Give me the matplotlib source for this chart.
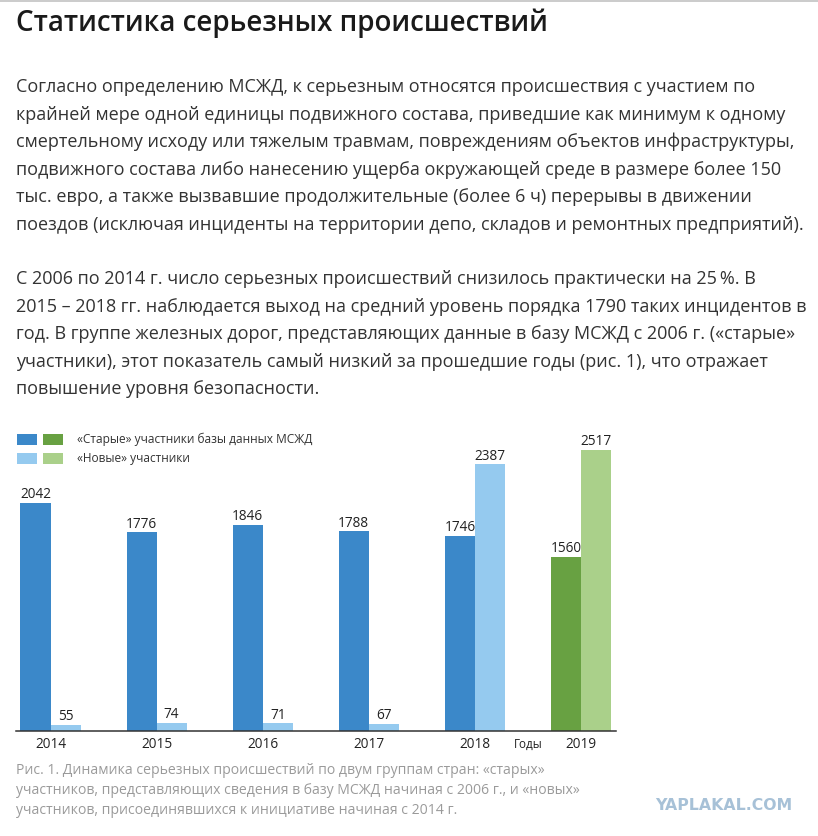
import matplotlib
matplotlib.use('Agg')
import matplotlib.pyplot as plt
from matplotlib.patches import Rectangle
import numpy as np

# ---------------- data ----------------
years = ['2014', '2015', '2016', '2017', '2018', '2019']
old_members = [2042, 1776, 1846, 1788, 1746, 1560]
new_members = [55, 74, 71, 67, 2387, 2517]
axis_word = 'Годы'

title = 'Статистика серьезных происшествий'
para1 = [
    'Согласно определению МСЖД, к серьезным относятся происшествия с участием по',
    'крайней мере одной единицы подвижного состава, приведшие как минимум к одному',
    'смертельному исходу или тяжелым травмам, повреждениям объектов инфраструктуры,',
    'подвижного состава либо нанесению ущерба окружающей среде в размере более 150',
    'тыс. евро, а также вызвавшие продолжительные (более 6 ч) перерывы в движении',
    'поездов (исключая инциденты на территории депо, складов и ремонтных предприятий).',
]
para2 = [
    'С 2006 по 2014 г. число серьезных происшествий снизилось практически на 25\u2009%. В',
    '2015 – 2018 гг. наблюдается выход на средний уровень порядка 1790 таких инцидентов в',
    'год. В группе железных дорог, представляющих данные в базу МСЖД с 2006 г. («старые»',
    'участники), этот показатель самый низкий за прошедшие годы (рис. 1), что отражает',
    'повышение уровня безопасности.',
]
legend_labels = ['«Старые» участники базы данных МСЖД', '«Новые» участники']
caption = [
    'Рис. 1. Динамика серьезных происшествий по двум группам стран: «старых»',
    'участников, представляющих сведения в базу МСЖД начиная с 2006 г., и «новых»',
    'участников, присоединявшихся к инициативе начиная с 2014 г.',
]
watermark = 'YAPLAKAL.COM'

# ---------------- style ----------------
BLUE, LBLUE = '#3b88c9', '#95caef'
GREEN, LGREEN = '#68a142', '#aad08a'
FAM = ['Open Sans', 'DejaVu Sans']

W, H = 818, 836
fig = plt.figure(figsize=(W / 100, H / 100), dpi=100)
fig.patch.set_facecolor('white')
renderer = fig.canvas.get_renderer()


def fx(x):
    return x / W


def fy(y):
    return 1 - y / H


def width_px(s, size, **kw):
    t = fig.text(0, 0, s, fontsize=size, **kw)
    w = t.get_window_extent(renderer=renderer).width
    t.remove()
    return w


def fit(s, target, **kw):
    return 10 * target / width_px(s, 10, **kw)


# top border line
fig.patches.append(Rectangle((0, fy(1.5)), 1, 1.5 / H, transform=fig.transFigure,
                             facecolor='#cccccc', edgecolor='none'))

# title
ts = fit(title, 533, family=FAM, weight='semibold')
fig.text(fx(16.5), fy(31), title, fontsize=ts, family=FAM, weight='semibold',
         color='#1a1a1a', va='baseline', ha='left')

# paragraphs
ps = fit(para1[5], 783, family=FAM)
for i, line in enumerate(para1):
    fig.text(fx(16.5), fy(92 + 27.6 * i), line, fontsize=ps, family=FAM,
             color='#333333', va='baseline', ha='left')
for i, line in enumerate(para2):
    fig.text(fx(16.5), fy(284 + 27.6 * i), line, fontsize=ps, family=FAM,
             color='#333333', va='baseline', ha='left')

# legend
leg_rows = [(433.5, BLUE, GREEN), (452.7, LBLUE, LGREEN)]
for (ytop, c1, c2) in leg_rows:
    for x0, c in ((16.7, c1), (43.3, c2)):
        fig.patches.append(Rectangle((fx(x0), fy(ytop + 11)), 20 / W, 11 / H,
                                     transform=fig.transFigure, facecolor=c, edgecolor='none'))
ls = fit(legend_labels[0], 235, family=FAM)
for (lab, yb) in zip(legend_labels, (443.5, 462.5)):
    fig.text(fx(77), fy(yb), lab, fontsize=ls, family=FAM, color='#333333',
             va='baseline', ha='left')

# chart
ax = fig.add_axes([fx(16), fy(731), (616 - 16) / W, (731 - 440) / H])
x = np.arange(len(years))
w = 0.2828
old_colors = [BLUE] * 5 + [GREEN]
new_colors = [LBLUE] * 5 + [LGREEN]
b1 = ax.bar(x - w / 2, old_members, w, color=old_colors, edgecolor=old_colors, linewidth=0)
b2 = ax.bar(x + w / 2, new_members, w, color=new_colors, edgecolor=new_colors, linewidth=0)
ax.set_xlim(-0.3252, 5.330)
ax.set_ylim(0, 2603)

for cont in (b1, b2):
    labs = ax.bar_label(cont, labels=[str(v) for v in cont.datavalues],
                        padding=3.2, fontsize=9.8, family=FAM, color='#222222')
    for t in labs:
        t.set_va('baseline')

ticks = list(x) + [4.5]
ax.set_xticks(ticks, years + [axis_word])
ax.tick_params(axis='x', length=0, pad=12.24, labelsize=9.8, labelcolor='#222222')
for lbl in ax.get_xticklabels():
    lbl.set_va('baseline')
    lbl.set_family(FAM)
    if lbl.get_text() == axis_word:
        lbl.set_fontsize(8.4)
ax.set_yticks([])
for s in ('top', 'left', 'right'):
    ax.spines[s].set_visible(False)
ax.spines['bottom'].set_color('#333333')
ax.spines['bottom'].set_linewidth(1.1)
ax.patch.set_alpha(0)

# caption
cs = fit(caption[1], 560, family=FAM)
for i, line in enumerate(caption):
    fig.text(fx(16.5), fy(773.5 + 20.2 * i), line, fontsize=cs, family=FAM,
             color='#9a9a9a', va='baseline', ha='left')

# watermark
wsz = fit(watermark, 137, family='DejaVu Sans', weight='bold')
fig.text(fx(655), fy(810), watermark, fontsize=wsz, family='DejaVu Sans',
         weight='bold', color='#a7c1d7', va='baseline', ha='left')

fig.savefig('out.png', dpi=100)
